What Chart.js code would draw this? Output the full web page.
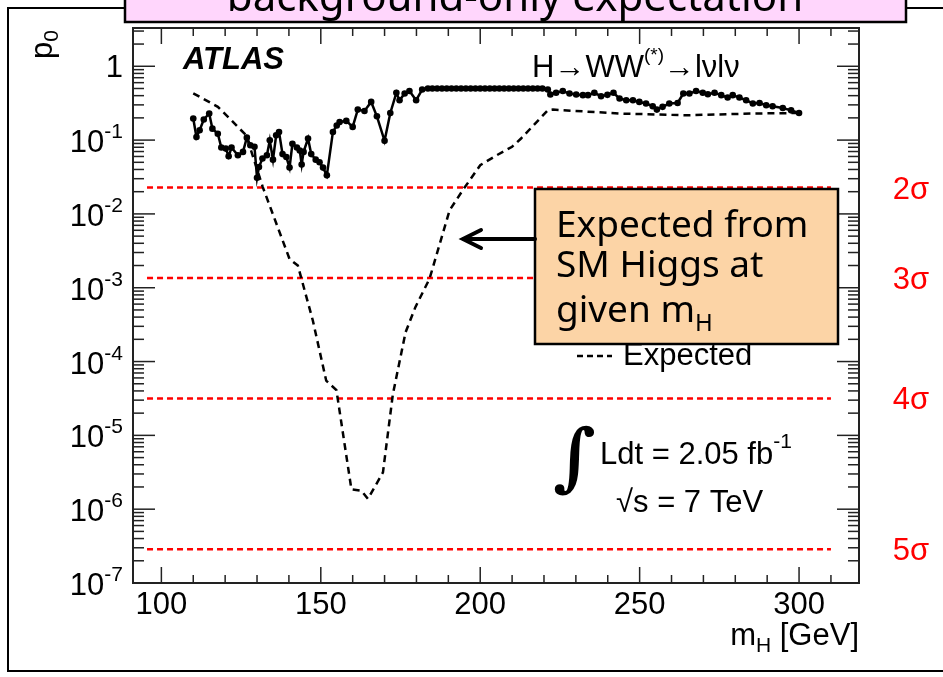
<!DOCTYPE html>
<html>
<head>
<meta charset="utf-8">
<script src="https://cdn.jsdelivr.net/npm/chart.js@4.4.1/dist/chart.umd.min.js"></script>
<style>
html, body { margin: 0; padding: 0; background: #fff; }
canvas { display: block; }
</style>
</head>
<body>
<canvas id="myChart" width="943" height="677"></canvas>
<script>
// observed local p0 (solid line with dots)
const obsMass = [110, 111, 112, 113.3, 115, 116, 117.7, 118.8, 120.2, 121.1, 122, 124, 125.6, 126.8, 127.9, 129.2,
  130, 130.6, 131.7, 133.1, 134, 135, 136, 136.9, 138, 139.2, 140.2, 141.1, 142.5, 143.4, 144, 144.6, 146, 147,
  148.4, 149.6, 150.7, 151.9, 153.8, 155, 155.9, 158, 160, 161.6, 163.7, 165.8, 167.6, 170, 171.8, 173.7, 174.7,
  176.3, 177.8, 179.9, 181.8, 183.6, 185, 186.5, 188, 189.5, 191, 192.5, 194, 195.5, 197, 198.5, 200, 201.5, 203,
  204.5, 206, 207.5, 209, 210.5, 212, 213.5, 215, 216.5, 218, 219.5, 221.2, 222, 223.8, 225.9, 228, 230.1, 232.2,
  233.8, 235.8, 237.9, 239.9, 241.8, 243.7, 245.8, 247.9, 249.9, 252, 254.1, 255.4, 257.2, 259.3, 261.9, 263.7,
  265.6, 267.7, 269.8, 271.4, 273.5, 275.6, 277.6, 279.2, 281.3, 283.4, 285.5, 287.6, 289.7, 291.7, 294.9, 297.5, 300]
const obsP0 = [0.196, 0.110, 0.136, 0.190, 0.229, 0.143, 0.122, 0.0794, 0.0767, 0.0603, 0.0794, 0.0622, 0.0692,
  0.108, 0.0851, 0.0813, 0.0309, 0.0432, 0.0562, 0.0622, 0.0993, 0.0543, 0.116, 0.129, 0.0646, 0.0589, 0.0424,
  0.0891, 0.0794, 0.0724, 0.0468, 0.0692, 0.105, 0.0646, 0.0543, 0.0501, 0.0424, 0.0333, 0.129, 0.158, 0.176,
  0.182, 0.151, 0.259, 0.248, 0.329, 0.210, 0.0977, 0.233, 0.437, 0.347, 0.427, 0.463, 0.347, 0.484, 0.5, 0.5,
  0.5, 0.5, 0.5, 0.5, 0.5, 0.5, 0.5, 0.5, 0.5, 0.5, 0.5, 0.5, 0.5, 0.5, 0.5, 0.5, 0.5, 0.5, 0.5, 0.5, 0.5, 0.5,
  0.5, 0.484, 0.414, 0.437, 0.463, 0.427, 0.414, 0.406, 0.406, 0.437, 0.393, 0.41, 0.437, 0.366, 0.347, 0.347,
  0.329, 0.313, 0.288, 0.259, 0.282, 0.313, 0.318, 0.427, 0.427, 0.463, 0.437, 0.418, 0.437, 0.406, 0.377, 0.406,
  0.377, 0.347, 0.313, 0.318, 0.296, 0.288, 0.272, 0.253, 0.233]

// expected p0 for a SM Higgs (dashed)
const expMass = [110, 113, 117.7, 121.4, 124.5, 126.6, 131.8, 140.2, 142.8, 147.5, 151.7, 154.9, 159.6, 162.7,
  164.8, 169.5, 172.6, 176.6, 179.7, 184.1, 190.4, 194.5, 200, 205, 210, 212.8, 221.2, 222.8, 243.7, 264.6, 285.5, 300]
const expP0 = [0.43, 0.366, 0.282, 0.196, 0.143, 0.116, 0.0231, 0.00245, 0.0020, 3.6e-4, 5.5e-5, 4.1e-5, 1.86e-6,
  1.78e-6, 1.38e-6, 3.16e-6, 3.6e-5, 2.5e-4, 5.5e-4, 1.32e-3, 0.0112, 0.0209, 0.0457, 0.0617, 0.0813, 0.105,
  0.254, 0.259, 0.229, 0.217, 0.229, 0.233]

// significance reference lines
const sigmaP0 = [0.02275, 1.35e-3, 3.17e-5, 2.87e-7]
const sigmaLabels = ['2σ', '3σ', '4σ', '5σ']
const sigmaSpan = [95.5, 310]

const xLabels = [100, 150, 200, 250, 300]
const yDecades = [0, -1, -2, -3, -4, -5, -6, -7]

const FONT = 'Liberation Sans, Arial, sans-serif'
const HAND = 'Noto Sans, sans-serif'

function pts(xs, ys) {
  return xs.map((m, i) => ({ x: m, y: ys[i] }))
}

// draws a row of text pieces [text, font, dy]
function runs(ctx, x, y, parts, align) {
  let w = 0
  parts.forEach(p => { ctx.font = p[1]; w += ctx.measureText(p[0]).width })
  let cx = align === 'right' ? x - w : align === 'center' ? x - w / 2 : x
  ctx.textAlign = 'left'
  ctx.textBaseline = 'alphabetic'
  parts.forEach(p => {
    ctx.font = p[1]
    ctx.fillText(p[0], cx, y + (p[2] || 0))
    cx += ctx.measureText(p[0]).width
  })
}

function seg(ctx, x1, y1, x2, y2) {
  ctx.beginPath(); ctx.moveTo(x1, y1); ctx.lineTo(x2, y2); ctx.stroke()
}

const decor = {
  id: 'decor',
  afterDraw(chart) {
    const { ctx, chartArea: a, scales: { x, y } } = chart
    ctx.save()

    // slide border and title box
    ctx.strokeStyle = '#000'
    ctx.lineWidth = 2
    ctx.beginPath()
    ctx.moveTo(943, 8); ctx.lineTo(8, 8); ctx.lineTo(8, 671); ctx.lineTo(943, 671)
    ctx.stroke()
    ctx.fillStyle = '#ffd6fc'
    ctx.fillRect(125, -10, 781, 32)
    ctx.lineWidth = 2.5
    ctx.strokeRect(125, -10, 781, 32)
    ctx.fillStyle = '#000'
    runs(ctx, 515, 11, [['background-only expectation', '42px ' + HAND]], 'center')

    // frame
    ctx.lineWidth = 2
    ctx.strokeStyle = '#222'
    ctx.strokeRect(a.left, a.top, a.right - a.left, a.bottom - a.top)

    // x ticks
    ctx.lineWidth = 1.5
    for (let m = 100; m <= 310; m += 10) {
      const px = x.getPixelForValue(m)
      const len = m % 50 === 0 ? 16 : 8
      seg(ctx, px, a.bottom, px, a.bottom - len)
      seg(ctx, px, a.top, px, a.top + len)
    }
    // y ticks
    for (let d = -7; d <= 0; d++) {
      for (let k = 1; k <= 9; k++) {
        const v = k * Math.pow(10, d)
        if (v > y.max || v < y.min) continue
        const py = y.getPixelForValue(v)
        const len = k === 1 ? 22 : 11
        seg(ctx, a.left, py, a.left + len, py)
        seg(ctx, a.right, py, a.right - len, py)
      }
    }

    // tick labels
    ctx.fillStyle = '#000'
    xLabels.forEach(m => {
      runs(ctx, x.getPixelForValue(m), 614, [[String(m), '31px ' + FONT]], 'center')
    })
    yDecades.forEach(d => {
      const py = y.getPixelForValue(Math.pow(10, d))
      if (d === 0) runs(ctx, 123, py + 11, [['1', '31px ' + FONT]], 'right')
      else runs(ctx, 123, py + 12, [['10', '31px ' + FONT], [String(d), '21px ' + FONT, -14]], 'right')
    })

    // axis titles
    runs(ctx, 859, 645, [['m', '31px ' + FONT], ['H', '21px ' + FONT, 7], [' [GeV]', '31px ' + FONT]], 'right')
    ctx.save()
    ctx.translate(52, 30)
    ctx.rotate(-Math.PI / 2)
    runs(ctx, 0, 0, [['p', '31px ' + FONT], ['0', '21px ' + FONT, 6]], 'right')
    ctx.restore()

    // labels in the plot
    runs(ctx, 183, 69, [['ATLAS', 'italic bold 31px ' + FONT]], 'left')
    runs(ctx, 532, 77, [['H→WW', '31px ' + FONT], ['(*)', '19px ' + FONT, -16], ['→lνlν', '31px ' + FONT]], 'left')

    ctx.font = 'bold 74px DejaVu Serif, serif'
    ctx.fillText('∫', 553, 482)
    runs(ctx, 600, 464, [['Ldt = 2.05 fb', '31px ' + FONT], ['-1', '21px ' + FONT, -16]], 'left')
    runs(ctx, 616, 512, [['√s = 7 TeV', '31px ' + FONT]], 'left')

    // sigma labels
    ctx.fillStyle = '#f00'
    sigmaP0.forEach((p, i) => {
      runs(ctx, 911, y.getPixelForValue(p) + 11, [[sigmaLabels[i], '31px ' + FONT]], 'center')
    })

    // legend entry
    ctx.fillStyle = '#000'
    ctx.strokeStyle = '#000'
    ctx.lineWidth = 2.5
    ctx.setLineDash([6, 4])
    seg(ctx, 577, 356, 612, 356)
    ctx.setLineDash([])
    runs(ctx, 623, 365, [['Expected', '31px ' + FONT]], 'left')

    // callout box
    ctx.fillStyle = '#fcd4a6'
    ctx.fillRect(535, 189, 303, 155)
    ctx.lineWidth = 2.5
    ctx.strokeStyle = '#000'
    ctx.strokeRect(535, 189, 303, 155)
    ctx.fillStyle = '#000'
    runs(ctx, 556, 237, [['Expected from', '37px ' + HAND]], 'left')
    runs(ctx, 556, 277, [['SM Higgs at', '37px ' + HAND]], 'left')
    runs(ctx, 556, 322, [['given m', '37px ' + HAND], ['H', '24px ' + HAND, 9]], 'left')

    // arrow
    ctx.lineWidth = 4
    ctx.lineCap = 'round'
    seg(ctx, 535, 239, 464, 239)
    ctx.beginPath()
    ctx.moveTo(481, 230); ctx.lineTo(463, 239); ctx.lineTo(481, 248)
    ctx.stroke()

    ctx.restore()
  }
}

const sigmaSets = sigmaP0.map(p => ({
  data: pts(sigmaSpan, [p, p]),
  showLine: true,
  borderColor: '#ff0000',
  borderWidth: 2.5,
  borderDash: [6, 4],
  pointRadius: 0,
  order: 3
}))

new Chart(document.getElementById('myChart'), {
  type: 'scatter',
  data: {
    datasets: [
      {
        label: 'Observed',
        data: pts(obsMass, obsP0),
        showLine: true,
        borderColor: '#000',
        borderWidth: 2.5,
        pointRadius: 3.3,
        pointBackgroundColor: '#000',
        pointBorderWidth: 0,
        order: 1
      },
      {
        label: 'Expected',
        data: pts(expMass, expP0),
        showLine: true,
        borderColor: '#000',
        borderWidth: 2.5,
        borderDash: [7, 5],
        pointRadius: 0,
        order: 2
      },
      ...sigmaSets
    ]
  },
  options: {
    responsive: false,
    animation: false,
    devicePixelRatio: 1,
    layout: { padding: { left: 133, right: 84, top: 28, bottom: 94 } },
    plugins: { legend: { display: false }, tooltip: { enabled: false } },
    scales: {
      x: {
        type: 'linear',
        min: 91.1,
        max: 318.8,
        grid: { display: false, drawTicks: false },
        border: { display: false },
        ticks: { display: false }
      },
      y: {
        type: 'logarithmic',
        min: 1e-7,
        max: 3.3,
        grid: { display: false, drawTicks: false },
        border: { display: false },
        ticks: { display: false }
      }
    }
  },
  plugins: [decor]
})
</script>
</body>
</html>
